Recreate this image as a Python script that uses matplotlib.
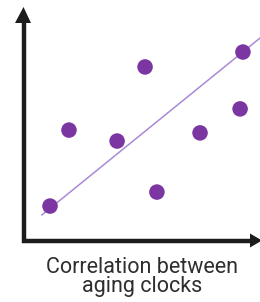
import matplotlib
matplotlib.use("Agg")
import matplotlib.pyplot as plt

# data (arbitrary units, 0..10 on both axes)
x_vals = [1.14, 1.94, 3.97, 5.15, 5.65, 7.47, 9.16, 9.28]
y_vals = [1.50, 4.76, 4.29, 7.47, 2.10, 4.64, 5.67, 8.11]
fit_x = [0.80, 10.0]
fit_y = [1.12, 8.71]
label_text = "Correlation between\naging clocks"

W, H = 260, 302
fig = plt.figure(figsize=(W / 100, H / 100), dpi=100)
fig.patch.set_facecolor("white")

# axes area: origin at pixel (23, 241), extends to (260, 8)
ax = fig.add_axes([23 / W, (H - 241) / H, 237 / W, 233 / H])
ax.set_xlim(0, 10)
ax.set_ylim(0, 10)
ax.axis("off")

ax.plot(fit_x, fit_y, color="#a98ad6", lw=1.1, zorder=2, clip_on=False)
ax.scatter(x_vals, y_vals, s=125, color="#7b36a2", edgecolors="none", zorder=3, clip_on=False)

# overlay axis arrows in figure pixel coordinates
ov = fig.add_axes([0, 0, 1, 1])
ov.set_xlim(0, W)
ov.set_ylim(H, 0)
ov.axis("off")
ov.patch.set_alpha(0)
axis_col = "#1c1c1c"
ov.plot([23.5, 23.5], [242.5, 20], color=axis_col, lw=3.2, solid_capstyle="butt")
ov.fill([15, 31, 23.5], [23, 23, 7], color=axis_col, lw=0)
ov.plot([21.5, 252], [240.5, 240.5], color=axis_col, lw=3.2, solid_capstyle="butt")
ov.fill([250, 250, 262], [233.5, 247.5, 240.5], color=axis_col, lw=0)

fig.text(142 / W, 1 - 277 / H, label_text, ha="center", va="center",
         fontsize=15.5, family="Roboto", color="#2e2e2e", linespacing=0.9)

fig.savefig("out.png", dpi=100, facecolor="white")
